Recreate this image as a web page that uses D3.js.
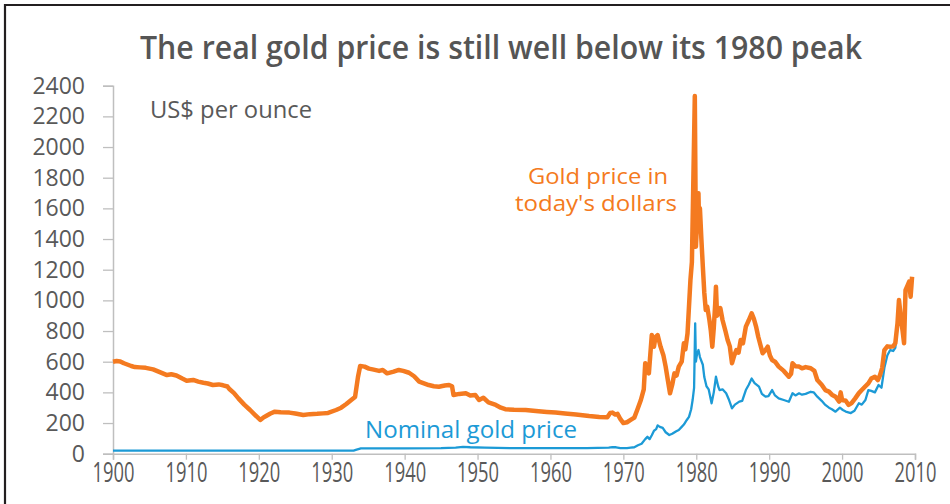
<!DOCTYPE html>
<html>
<head>
<meta charset="utf-8">
<script src="https://cdn.jsdelivr.net/npm/d3@7"></script>
<style>
  html, body { margin: 0; padding: 0; background: #fff; }
  svg { display: block; }
  text { font-family: "Open Sans", "Noto Sans", sans-serif; }
</style>
</head>
<body>
<svg id="chart" width="950" height="504"></svg>
<script>
// ---- Data ----
const titleText = "The real gold price is still well below its 1980 peak";
const unitLabel = "US$ per ounce";
const realLabelLines = ["Gold price in", "today's dollars"];
const nominalLabel = "Nominal gold price";

const xTicks = [1900, 1910, 1920, 1930, 1940, 1950, 1960, 1970, 1980, 1990, 2000, 2010];
const yTicks = [0, 200, 400, 600, 800, 1000, 1200, 1400, 1600, 1800, 2000, 2200, 2400];

// Gold price in today's dollars (real)
const realYears = [
  1900.0,1900.5,1901.0,1901.5,1902.5,1903.0,1903.7,1904.5,1905.5,1906.5,1907.4,1908.0,1908.7,1909.5,
  1910.1,1911.0,1911.7,1912.4,1913.0,1913.7,1914.5,1915.1,1915.7,1916.0,1916.6,1917.2,1918.0,1918.8,
  1919.5,1920.2,1920.6,1921.0,1921.6,1922.2,1923.0,1924.2,1925.0,1926.1,1927.0,1928.0,1928.8,1929.5,
  1930.6,1931.3,1932.0,1932.8,1933.2,1933.6,1933.9,1934.5,1935.1,1935.6,1936.5,1937.0,1937.6,1938.5,
  1939.2,1939.8,1940.6,1941.3,1942.0,1943.3,1944.0,1944.7,1945.5,1946.1,1946.5,1946.7,1947.5,1948.4,
  1949.0,1949.7,1950.2,1950.8,1951.5,1952.5,1953.2,1953.8,1955.0,1956.6,1958.0,1959.5,1960.7,1962.0,
  1963.5,1965.3,1966.7,1967.8,1968.2,1968.5,1968.9,1969.2,1969.6,1970.0,1970.5,1971.0,1971.5,1971.9,
  1972.4,1972.8,1973.0,1973.3,1973.5,1973.9,1974.2,1974.4,1974.7,1975.1,1975.5,1975.8,1976.1,1976.4,
  1976.7,1977.0,1977.3,1977.6,1978.0,1978.3,1978.5,1978.8,1979.2,1979.4,1979.6,1979.8,1979.95,1980.1,
  1980.3,1980.4,1980.5,1980.7,1980.9,1981.1,1981.3,1981.5,1981.8,1982.0,1982.2,1982.4,1982.6,1982.7,
  1982.85,1983.0,1983.3,1983.6,1984.0,1984.3,1984.6,1984.9,1985.2,1985.5,1985.8,1986.1,1986.4,1986.8,
  1987.2,1987.6,1987.9,1988.2,1988.5,1989.1,1989.5,1989.8,1990.1,1990.4,1990.8,1991.3,1992.0,1992.7,
  1993.0,1993.2,1993.6,1994.1,1994.5,1995.0,1995.7,1996.2,1996.6,1997.2,1997.7,1998.2,1998.6,1999.1,
  1999.6,1999.8,2000.0,2000.5,2000.9,2001.3,2001.8,2002.3,2002.7,2003.2,2003.6,2004.0,2004.5,2004.9,
  2005.2,2005.5,2005.8,2006.2,2006.6,2007.0,2007.3,2007.6,2007.8,2008.1,2008.3,2008.5,2008.7,2009.0,
  2009.2,2009.4,2009.6
];
const realValues = [
  600,605,602,590,572,565,563,560,550,530,513,518,510,490,
  476,481,470,463,458,448,452,446,438,420,395,361,320,285,
  252,220,235,246,262,274,270,268,262,252,258,260,263,266,
  285,300,324,355,370,500,572,568,555,550,540,546,524,535,
  546,540,528,505,470,448,440,437,445,448,440,383,390,394,
  380,383,350,365,335,318,300,290,286,285,278,272,268,262,
  256,246,240,237,265,268,255,260,225,200,205,220,235,285,
  350,420,590,560,524,774,698,760,774,698,640,568,480,394,
  450,524,510,568,600,720,680,785,1133,1250,1785,2333,1350,1500,
  1698,1450,1600,1400,1220,1050,937,960,872,800,698,820,980,1089,
  900,916,950,872,800,742,700,590,640,676,660,742,720,829,
  870,916,880,829,763,655,676,698,640,611,600,568,540,502,
  520,590,570,568,557,565,557,540,481,450,415,405,385,372,
  340,400,350,345,318,330,361,395,415,440,459,490,502,480,
  513,560,676,700,698,700,720,850,1002,872,800,720,1067,1100,
  1122,1024,1154
];

// Nominal gold price
const nominalYears = [
  1900.0,1933.0,1933.3,1934.0,1940.0,1945.0,1947.0,1948.0,1949.0,1951.0,1955.0,1960.0,1965.0,1968.0,
  1968.5,1969.0,1969.6,1970.0,1970.5,1971.0,1971.5,1972.0,1972.5,1973.0,1973.3,1973.6,1973.9,1974.2,
  1974.5,1974.7,1975.0,1975.4,1975.8,1976.3,1976.7,1977.2,1977.6,1978.0,1978.3,1978.7,1979.0,1979.3,
  1979.5,1979.7,1979.85,1979.95,1980.1,1980.3,1980.5,1980.9,1981.1,1981.4,1981.7,1982.1,1982.4,1982.7,
  1983.0,1983.2,1983.6,1984.1,1984.5,1984.9,1985.3,1985.9,1986.3,1986.8,1987.2,1987.6,1988.0,1988.6,
  1989.0,1989.5,1989.9,1990.4,1990.8,1991.3,1992.0,1992.7,1993.2,1993.6,1994.1,1994.5,1995.0,1995.7,
  1996.1,1996.6,1997.2,1997.7,1998.2,1998.6,1999.1,1999.7,2000.1,2000.5,2001.2,2001.7,2002.3,2002.7,
  2003.2,2003.6,2004.0,2004.5,2005.0,2005.4,2005.8,2006.2,2006.6,2007.0,2007.3,2007.6,2007.8,2008.1,
  2008.3,2008.5,2008.7,2009.0,2009.2,2009.4,2009.6
];
const nominalValues = [
  20.67,20.67,25,35,35,37,40,45,42,40,36,36,36,39,
  43,42,37,36,37,40,42,55,65,95,110,95,120,150,
  160,185,175,168,140,122,130,145,155,175,190,220,240,290,
  350,430,850,600,650,676,630,580,500,440,420,329,400,502,
  440,415,420,394,350,296,320,340,345,415,450,490,460,437,
  390,372,375,415,380,361,350,339,394,380,394,385,390,404,
  400,372,345,318,300,290,274,300,285,275,265,280,329,320,
  350,415,410,400,448,430,560,640,676,670,690,830,990,870,
  800,720,1040,1090,1110,1020,1150
];

// ---- Layout ----
const svg = d3.select("#chart");
const W = 950, H = 504;
const x = d3.scaleLinear().domain([1900, 2010]).range([113, 915]);
const y = d3.scaleLinear().domain([0, 2400]).range([453.7, 85.7]);

const gray = "#595959";
const axisGray = "#bfbfbf";
const orange = "#f47a20";
const blue = "#1c9ad6";

// Frame (top and left border)
svg.append("line").attr("x1", 5).attr("x2", W).attr("y1", 5).attr("y2", 5)
  .attr("stroke", "#231f20").attr("stroke-width", 2.2);
svg.append("line").attr("x1", 5).attr("x2", 5).attr("y1", 4).attr("y2", H)
  .attr("stroke", "#231f20").attr("stroke-width", 2.2);

// Title
svg.append("text").attr("x", 140).attr("y", 59)
  .attr("font-size", 32).attr("font-weight", 600).attr("fill", "#555555")
  .attr("textLength", 722).attr("lengthAdjust", "spacingAndGlyphs")
  .text(titleText);

// Y axis
const yAxis = d3.axisLeft(y).tickValues(yTicks).tickSize(10).tickPadding(18)
  .tickFormat(d3.format("d"));
const gy = svg.append("g").attr("transform", "translate(113,0)").call(yAxis);
gy.select(".domain").attr("stroke", axisGray).attr("stroke-width", 1.5);
gy.selectAll(".tick line").attr("stroke", axisGray).attr("stroke-width", 1.3);
gy.selectAll(".tick text").attr("fill", gray).attr("font-size", 23)
  .attr("font-family", "'Open Sans', sans-serif");

// X axis
const xAxis = d3.axisBottom(x).tickValues(xTicks).tickSize(6).tickPadding(3)
  .tickFormat(d3.format("d"));
const gx = svg.append("g").attr("transform", "translate(0,453.7)").call(xAxis);
gx.select(".domain").attr("stroke", axisGray).attr("stroke-width", 1.5);
gx.selectAll(".tick line").attr("stroke", axisGray).attr("stroke-width", 1.3);
gx.selectAll(".tick text").attr("fill", gray).attr("font-size", 27)
  .attr("font-family", "'Open Sans', sans-serif")
  .attr("textLength", 42).attr("lengthAdjust", "spacingAndGlyphs");

// Lines
const line = d3.line().x(d => x(d[0])).y(d => y(d[1])).curve(d3.curveLinear);
const nominalData = nominalYears.map((yr, i) => [yr, nominalValues[i]]);
const realData = realYears.map((yr, i) => [yr, realValues[i]]);

svg.append("path").datum(nominalData).attr("d", line)
  .attr("fill", "none").attr("stroke", blue).attr("stroke-width", 2.3)
  .attr("stroke-linejoin", "round");
svg.append("path").datum(realData).attr("d", line)
  .attr("fill", "none").attr("stroke", orange).attr("stroke-width", 4.5)
  .attr("stroke-linejoin", "round");

// Labels
svg.append("text").attr("x", 150).attr("y", 118)
  .attr("font-size", 23).attr("fill", gray)
  .attr("textLength", 162).attr("lengthAdjust", "spacingAndGlyphs")
  .text(unitLabel);

svg.append("text").attr("x", 598).attr("y", 184).attr("text-anchor", "middle")
  .attr("font-size", 22).attr("fill", orange)
  .attr("textLength", 140).attr("lengthAdjust", "spacingAndGlyphs")
  .text(realLabelLines[0]);
svg.append("text").attr("x", 596).attr("y", 211).attr("text-anchor", "middle")
  .attr("font-size", 22).attr("fill", orange)
  .attr("textLength", 162).attr("lengthAdjust", "spacingAndGlyphs")
  .text(realLabelLines[1]);

svg.append("text").attr("x", 365).attr("y", 438)
  .attr("font-size", 23).attr("fill", blue)
  .attr("textLength", 212).attr("lengthAdjust", "spacingAndGlyphs")
  .text(nominalLabel);
</script>
</body>
</html>
